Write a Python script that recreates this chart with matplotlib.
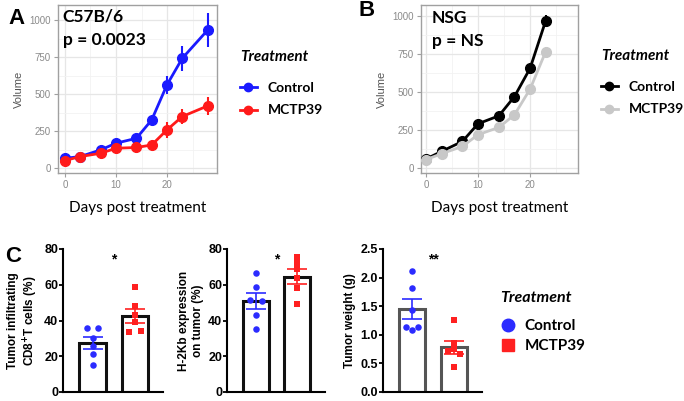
import matplotlib.pyplot as plt
import numpy as np
from matplotlib.lines import Line2D

plt.rcParams['font.family'] = ['Lato', 'DejaVu Sans']

# ---- panel A / B data (tumor volume over time)
daysA = [0, 3, 7, 10, 14, 17, 20, 23, 28]
a_ctrl = [67, 79, 124, 169, 202, 326, 563, 742, 933]
a_ctrl_err = [10, 10, 15, 15, 18, 22, 61, 84, 117]
a_mctp = [52, 79, 101, 135, 140, 157, 259, 349, 421]
a_mctp_err = [8, 10, 12, 14, 14, 15, 56, 53, 61]

daysB = [0, 3, 7, 10, 14, 17, 20, 23]
b_ctrl = [59, 109, 175, 291, 343, 470, 656, 969]
b_ctrl_err = [6, 10, 14, 18, 18, 22, 25, 40]
b_mctp = [55, 94, 142, 219, 267, 350, 519, 766]
b_mctp_err = [6, 8, 10, 14, 14, 18, 22, 32]

# ---- panel C data (individual mice)
cd8_ctrl = [36, 36, 30, 26, 21, 15]
cd8_mctp = [58.5, 48, 43, 39, 33.5, 34]
h2kb_ctrl = [66.5, 59, 51.5, 51, 43, 35]
h2kb_mctp = [75.5, 72, 69, 64, 58, 49]
weight_ctrl = [2.11, 1.81, 1.44, 1.14, 1.14, 1.08]
weight_mctp = [1.26, 0.86, 0.76, 0.71, 0.66, 0.43]

fig = plt.figure(figsize=(6.84, 4.01), dpi=100)
W, H = 684, 401

def px_axes(l, t, r, b):
    return fig.add_axes([l / W, 1 - b / H, (r - l) / W, (b - t) / H])

def gg_style(ax, xlim, ylim):
    ax.set_xlim(*xlim)
    ax.set_ylim(*ylim)
    ax.set_xticks([0, 10, 20])
    ax.set_xticks([5, 15, 25], minor=True)
    ax.set_yticks([0, 250, 500, 750, 1000])
    ax.set_yticks([125, 375, 625, 875], minor=True)
    ax.grid(True, which='major', color='#e6e6e6', lw=0.9)
    ax.grid(True, which='minor', color='#f2f2f2', lw=0.6)
    ax.set_axisbelow(True)
    for s in ax.spines.values():
        s.set_color('#a0a0a0')
        s.set_linewidth(1.0)
    ax.tick_params(which='major', length=3, color='#a0a0a0', labelcolor='#8a8a8a',
                   labelsize=7, pad=2)
    ax.tick_params(which='minor', length=0)
    for lab in ax.get_xticklabels() + ax.get_yticklabels():
        lab.set_family(['Liberation Sans', 'DejaVu Sans'])
    ax.set_ylabel('Volume', color='#555555', fontsize=8, family=['Liberation Sans'], labelpad=4)
    ax.set_xlabel('Days post treatment', fontsize=11, labelpad=8)

def growth(ax, x, y, e, c):
    ax.errorbar(x, y, yerr=e, color=c, lw=2, marker='o', ms=7, elinewidth=1.5,
                capsize=0, zorder=3)

# ---- A
axA = px_axes(58, 5, 217, 173)
growth(axA, daysA, a_ctrl, a_ctrl_err, '#1a1aff')
growth(axA, daysA, a_mctp, a_mctp_err, '#ff1a1a')
gg_style(axA, (-1.37, 29.8), (-32, 1101))
axA.text(0.03, 0.93, 'C57B/6', transform=axA.transAxes, fontsize=12.5, fontweight='bold', va='center')
axA.text(0.03, 0.79, 'p = 0.0023', transform=axA.transAxes, fontsize=12.5, fontweight='bold', va='center')

# ---- B
axB = px_axes(421, 5, 578, 173)
growth(axB, daysB, b_ctrl, b_ctrl_err, '#000000')
growth(axB, daysB, b_mctp, b_mctp_err, '#c8c8c8')
gg_style(axB, (-0.96, 29.2), (-33, 1072))
axB.text(0.07, 0.925, 'NSG', transform=axB.transAxes, fontsize=12.5, fontweight='bold', va='center')
axB.text(0.07, 0.785, 'p = NS', transform=axB.transAxes, fontsize=12.5, fontweight='bold', va='center')

def line_legend(x, y, colors):
    hs = [Line2D([], [], color=c, lw=2, marker='o', ms=6) for c in colors]
    leg = fig.legend(hs, ['Control', 'MCTP39'], loc='upper left',
                     bbox_to_anchor=(x / W, 1 - y / H), frameon=False,
                     title='Treatment', fontsize=10, handlelength=1.2,
                     handletextpad=0.8, labelspacing=0.75, borderaxespad=0,
                     borderpad=0)
    leg.get_title().set_fontweight('bold')
    leg.get_title().set_fontstyle('italic')
    leg.get_title().set_fontsize(11)
    leg._legend_box.align = 'left'
    leg._legend_box.sep = 13
    for t in leg.get_texts():
        t.set_fontweight('bold')

line_legend(240, 50, ['#1a1aff', '#ff1a1a'])
line_legend(601, 49, ['#000000', '#c8c8c8'])

# ---- C
def bar_panel(l, r, ctrl, mctp, ymax, yticks, ylabel, star, edge):
    ax = px_axes(l, 249, r, 392)
    groups = [ctrl, mctp]
    colors = ['#2b2bff', '#ff2020']
    markers = ['o', 's']
    for i, vals in enumerate(groups):
        vals = np.array(vals)
        m = vals.mean()
        sem = vals.std(ddof=1) / np.sqrt(len(vals))
        ax.bar(i, m, width=0.62, color='white', edgecolor=edge, lw=2.2, zorder=1)
        offs = np.zeros(len(vals))
        _, idx = np.unique(np.round(vals / ymax * 40), return_inverse=True)
        for k in np.unique(idx):
            sel = np.where(idx == k)[0]
            if len(sel) > 1:
                offs[sel] = np.linspace(-0.14, 0.14, len(sel))
        ax.scatter(i + offs, vals, color=colors[i], marker=markers[i], s=22, zorder=3, lw=0)
        ax.errorbar(i, m, yerr=sem, color=colors[i], lw=1.2, capsize=7, capthick=1.2, zorder=4)
    ax.set_xlim(-0.7, 1.67)
    ax.set_ylim(0, ymax)
    ax.set_yticks(yticks)
    ax.set_xticks([])
    for s in ['top', 'right']:
        ax.spines[s].set_visible(False)
    for s in ['left', 'bottom']:
        ax.spines[s].set_linewidth(1.5)
    ax.tick_params(axis='y', length=3, width=1.3, labelsize=9, pad=0.5)
    for lab in ax.get_yticklabels():
        lab.set_fontweight('bold')
        lab.set_family(['Liberation Sans'])
    ax.set_ylabel(ylabel, fontsize=8.5, fontweight='bold', family=['Liberation Sans'], labelpad=3)
    ax.text(0.5, ymax * 0.93, star, ha='center', va='center', fontsize=10, fontweight='bold',
            family=['Liberation Sans'])
    return ax

bar_panel(63, 163, cd8_ctrl, cd8_mctp, 80, [0, 20, 40, 60, 80],
          'Tumor infiltrating\nCD8$^{\\mathbf{+}}$T cells (%)', '*', '#111111')
bar_panel(227, 325, h2kb_ctrl, h2kb_mctp, 80, [0, 20, 40, 60, 80],
          'H-2Kb expression\non tumor (%)', '*', '#111111')
axC3 = bar_panel(383, 482, weight_ctrl, weight_mctp, 2.5, [0, 0.5, 1.0, 1.5, 2.0, 2.5],
                 'Tumor weight (g)', '**', '#555555')
axC3.set_yticklabels(['0.0', '0.5', '1.0', '1.5', '2.0', '2.5'], fontweight='bold',
                     family=['Liberation Sans'])

hs = [Line2D([], [], ls='', marker='o', color='#2b2bff', ms=9),
      Line2D([], [], ls='', marker='s', color='#ff2020', ms=9)]
leg = fig.legend(hs, ['Control', 'MCTP39'], loc='upper left', bbox_to_anchor=(500 / W, 1 - 291 / H),
                 frameon=False, title='Treatment', fontsize=11, handlelength=1.0,
                 handletextpad=0.6, labelspacing=0.4, borderaxespad=0, borderpad=0)
leg.get_title().set_fontweight('bold')
leg.get_title().set_fontstyle('italic')
leg.get_title().set_fontsize(11.5)
leg._legend_box.align = 'left'
leg._legend_box.sep = 10
for t in leg.get_texts():
    t.set_fontweight('bold')

# panel letters
fig.text(8 / W, 1 - 18 / H, 'A', fontsize=16, fontweight='bold', va='center', family=['Liberation Sans'])
fig.text(359 / W, 1 - 11 / H, 'B', fontsize=16, fontweight='bold', va='center', family=['Liberation Sans'])
fig.text(5 / W, 1 - 256 / H, 'C', fontsize=16, fontweight='bold', va='center', family=['Liberation Sans'])

fig.savefig('out.png', dpi=100)
